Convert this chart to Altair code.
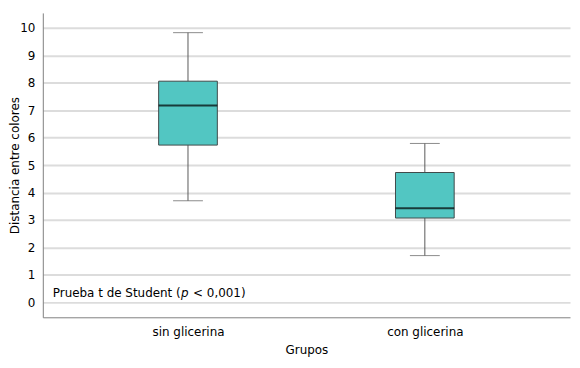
import altair as alt
import pandas as pd

groups = ["sin glicerina", "con glicerina"]
whisker_low = [3.70, 1.70]
q1 = [5.73, 3.07]
median = [7.17, 3.43]
q3 = [8.06, 4.73]
whisker_high = [9.83, 5.79]
y_ticks = [0, 1, 2, 3, 4, 5, 6, 7, 8, 9, 10]

df = pd.DataFrame({
    "grupo": groups, "lo": whisker_low, "q1": q1, "med": median,
    "q3": q3, "hi": whisker_high,
})

FONT = "DejaVu Sans"
x = alt.X("grupo:N", sort=groups, title="Grupos",
          scale=alt.Scale(type="point", padding=0.613),
          axis=alt.Axis(labelAngle=0, ticks=False, grid=False, domainColor="#808080",
                        labelPadding=9, titlePadding=7, labelFontSize=12, titleFontSize=12,
                        labelFont=FONT, titleFont=FONT, labelColor="#000", titleColor="#000",
                        titleFontWeight="normal"))
yscale = alt.Scale(domain=[-0.55, 10.55], nice=False, zero=False)
yaxis = alt.Axis(values=y_ticks, ticks=False, gridColor="#dcdcdc", gridWidth=2,
                 labelOverlap=False,
                 domainColor="#808080", labelPadding=8,
                 titleX=-33, titleY=153, titleAngle=-90, titleAlign="center",
                 titleBaseline="top",
                 labelFontSize=12, titleFontSize=12, labelFont=FONT, titleFont=FONT,
                 labelColor="#000", titleColor="#000", titleFontWeight="normal")
YTITLE = "Distancia entre colores"


def Y(field):
    return alt.Y(field, scale=yscale, axis=yaxis, title=YTITLE)


base = alt.Chart(df)
whisk_lo = base.mark_rule(color="#5a5a5a", strokeWidth=1).encode(x=x, y=Y("lo:Q"), y2="q1:Q")
whisk_hi = base.mark_rule(color="#5a5a5a", strokeWidth=1).encode(x=x, y=Y("q3:Q"), y2="hi:Q")
cap_lo = base.mark_tick(color="#5a5a5a", thickness=1, size=30, orient="horizontal").encode(x=x, y=Y("lo:Q"))
cap_hi = base.mark_tick(color="#5a5a5a", thickness=1, size=30, orient="horizontal").encode(x=x, y=Y("hi:Q"))
box = base.mark_bar(size=59, color="#52C6C2", stroke="#404a4a", strokeWidth=1).encode(
    x=x, y=Y("q1:Q"), y2="q3:Q")
med = base.mark_tick(color="#000000", thickness=2, size=59, orient="horizontal").encode(x=x, y=Y("med:Q"))

ann = pd.DataFrame({"y": [0.33]})
t1 = alt.Chart(ann).mark_text(text="Prueba t de Student (", align="left", baseline="middle",
                              font=FONT, fontSize=12, color="#000").encode(
    x=alt.value(10), y=Y("y:Q"))
t2 = alt.Chart(ann).mark_text(text="p", align="left", baseline="middle", fontStyle="italic",
                              font=FONT, fontSize=12, color="#000").encode(
    x=alt.value(139), y=Y("y:Q"))
t3 = alt.Chart(ann).mark_text(text="< 0,001)", align="left", baseline="middle",
                              font=FONT, fontSize=12, color="#000").encode(
    x=alt.value(151), y=Y("y:Q"))

chart = alt.layer(whisk_lo, whisk_hi, cap_lo, cap_hi, box, med, t1, t2, t3).properties(
    width=530, height=306,
    padding={"left": 35, "top": 4, "right": 2, "bottom": 45},
    autosize=alt.AutoSizeParams(type="none"),
    background="white",
).configure_view(strokeWidth=0, stroke="transparent")

chart.save("out.html", embed_options={"renderer": "svg", "actions": False})
